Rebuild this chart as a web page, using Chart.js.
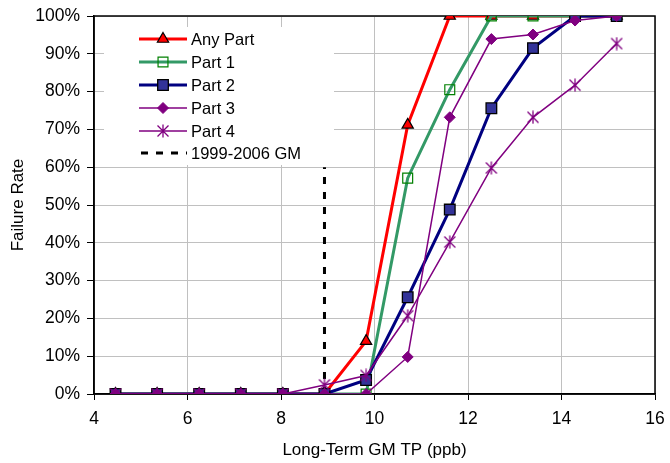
<!DOCTYPE html>
<html>
<head>
<meta charset="utf-8">
<script src="https://cdn.jsdelivr.net/npm/chart.js@4/dist/chart.umd.min.js"></script>
<style>
  body { margin: 0; background: #fff; }
  #wrap { width: 670px; height: 463px; }
</style>
</head>
<body>
<div id="wrap"><canvas id="failChart" width="670" height="463"></canvas></div>
<script>
// long-term GM TP (ppb) bin centres
const gmTP = [4.46, 5.35, 6.25, 7.14, 8.04, 8.93, 9.82, 10.71, 11.61, 12.50, 13.39, 14.29, 15.18];

// failure rates, %
const anyPart = [0, 0, 0, 0, 0, 0, 14.0, 71.2, 100, 100, 100, 100, 100];
const part1   = [0, 0, 0, 0, 0, 0, 0, 57.1, 80.5, 100, 100, 100, 100];
const part2   = [0, 0, 0, 0, 0, 0, 3.7, 25.6, 48.8, 75.6, 91.5, 100, 100];
const part3   = [0, 0, 0, 0, 0, 0, 0, 9.8, 73.2, 93.9, 95.1, 98.8, 100];
const part4   = [0, 0, 0, 0, 0, 2.4, 4.9, 20.7, 40.2, 59.8, 73.2, 81.7, 92.7];

// 1999-2006 GM reference line
const refX = [8.93, 8.93];
const refY = [0, 60];

const xTicks = [4, 6, 8, 10, 12, 14, 16];

function pts(xs, ys) {
    return xs.map((x, i) => ({ x: x, y: ys[i] }));
}

const FONT = "'Liberation Sans', Arial, sans-serif";

// Excel "star" marker: an X with a vertical bar
function makeStar(color) {
    const c = document.createElement("canvas");
    c.width = 14;
    c.height = 14;
    const g = c.getContext("2d");
    g.strokeStyle = color;
    g.lineWidth = 1.3;
    g.beginPath();
    g.moveTo(1.5, 1.5); g.lineTo(12.5, 12.5);
    g.moveTo(12.5, 1.5); g.lineTo(1.5, 12.5);
    g.moveTo(7, 0.5); g.lineTo(7, 13.5);
    g.stroke();
    return c;
}
const starMarker = makeStar("#800080");

const datasets = [
    {
        label: "Any Part",
        data: pts(gmTP, anyPart),
        borderColor: "#ff0000",
        borderWidth: 3,
        pointStyle: "triangle",
        pointRadius: 6.5,
        pointBackgroundColor: "#ff0000",
        pointBorderColor: "#000000",
        pointBorderWidth: 1.2,
        order: 5,
    },
    {
        label: "Part 1",
        data: pts(gmTP, part1),
        borderColor: "#339966",
        borderWidth: 3,
        pointStyle: "rect",
        pointRadius: 7,
        pointBackgroundColor: "rgba(255,255,255,0)",
        pointBorderColor: "#008000",
        pointBorderWidth: 1.2,
        order: 4,
    },
    {
        label: "Part 2",
        data: pts(gmTP, part2),
        borderColor: "#000080",
        borderWidth: 3,
        pointStyle: "rect",
        pointRadius: 7.5,
        pointBackgroundColor: "#333399",
        pointBorderColor: "#000000",
        pointBorderWidth: 1.3,
        order: 3,
    },
    {
        label: "Part 3",
        data: pts(gmTP, part3),
        borderColor: "#800080",
        borderWidth: 1.5,
        pointStyle: "rectRot",
        pointRadius: 5.5,
        pointBackgroundColor: "#800080",
        pointBorderColor: "#800080",
        pointBorderWidth: 1,
        order: 2,
    },
    {
        label: "Part 4",
        data: pts(gmTP, part4),
        borderColor: "#800080",
        borderWidth: 1.5,
        pointStyle: starMarker,
        pointRadius: 7,
        pointBackgroundColor: "#800080",
        pointBorderColor: "#800080",
        pointBorderWidth: 1.3,
        order: 1,
    },
    {
        label: "1999-2006 GM",
        data: pts(refX, refY),
        borderColor: "#000000",
        borderWidth: 3,
        borderDash: [7, 8],
        pointRadius: 0,
        order: 6,
    },
];

// plot frame, drawn under the data
const frame = {
    id: "frame",
    beforeDatasetsDraw(chart) {
        const { ctx, chartArea: a } = chart;
        ctx.save();
        ctx.strokeStyle = "#000";
        ctx.lineWidth = 1.5;
        ctx.strokeRect(a.left, a.top, a.right - a.left, a.bottom - a.top);
        ctx.restore();
    },
};

// Excel-style legend box inside the plot
const boxLegend = {
    id: "boxLegend",
    afterDraw(chart) {
        const { ctx } = chart;
        ctx.save();
        ctx.fillStyle = "#fff";
        ctx.fillRect(104, 27, 230, 138);
        const rowY = [39, 62, 85, 108, 131, 153];
        chart.data.datasets.forEach((ds, i) => {
            const y = rowY[i];
            ctx.strokeStyle = ds.borderColor;
            ctx.lineWidth = ds.borderWidth;
            ctx.setLineDash(ds.borderDash || []);
            ctx.beginPath();
            ctx.moveTo(ds.borderDash ? 141 : 139, y);
            ctx.lineTo(187, y);
            ctx.stroke();
            ctx.setLineDash([]);
            if (ds.pointRadius > 0) {
                ctx.fillStyle = ds.pointBackgroundColor;
                ctx.strokeStyle = ds.pointBorderColor;
                ctx.lineWidth = ds.pointBorderWidth;
                Chart.helpers.drawPoint(ctx, {
                    pointStyle: ds.pointStyle,
                    radius: ds.pointRadius,
                    rotation: 0,
                    borderWidth: ds.pointBorderWidth,
                }, 163, y);
            }
            ctx.fillStyle = "#000";
            ctx.font = "16.5px " + FONT;
            ctx.textBaseline = "middle";
            ctx.textAlign = "left";
            ctx.fillText(ds.label, 191, y + 1);
        });
        ctx.restore();
    },
};

const ctx = document.getElementById("failChart").getContext("2d");

new Chart(ctx, {
    type: "line",
    data: { datasets: datasets },
    plugins: [frame, boxLegend],
    options: {
        responsive: false,
        animation: false,
        devicePixelRatio: 1,
        layout: { padding: { left: 0, right: 15, top: 16, bottom: 0 } },
        plugins: {
            legend: { display: false },
            tooltip: { enabled: false },
        },
        scales: {
            x: {
                type: "linear",
                min: 4,
                max: 16,
                afterBuildTicks(scale) {
                    scale.ticks = xTicks.map(v => ({ value: v }));
                },
                afterFit(scale) {
                    scale.height = 69;
                    scale.paddingLeft = 0;
                    scale.paddingRight = 0;
                },
                ticks: {
                    color: "#000",
                    font: { family: FONT, size: 17.5 },
                    padding: 9,
                    maxRotation: 0,
                },
                grid: { color: "#c0c0c0", tickColor: "#000", tickLength: 6, lineWidth: 1 },
                border: { display: true, color: "#000", width: 1.5 },
                title: {
                    display: true,
                    text: "Long-Term GM TP (ppb)",
                    color: "#000",
                    font: { family: FONT, size: 17 },
                    padding: { top: 0, bottom: 2 },
                },
            },
            y: {
                min: 0,
                max: 100,
                afterFit(scale) {
                    scale.width = 94;
                    scale.paddingTop = 0;
                    scale.paddingBottom = 0;
                },
                ticks: {
                    stepSize: 10,
                    color: "#000",
                    font: { family: FONT, size: 17.5 },
                    padding: 7,
                    callback: v => v + "%",
                },
                grid: { color: "#c0c0c0", tickColor: "#000", tickLength: 7, lineWidth: 1 },
                border: { display: true, color: "#000", width: 1.5 },
                title: {
                    display: true,
                    text: "Failure Rate",
                    color: "#000",
                    font: { family: FONT, size: 17 },
                    padding: { top: 8, bottom: 0 },
                },
            },
        },
    },
});
</script>
</body>
</html>
